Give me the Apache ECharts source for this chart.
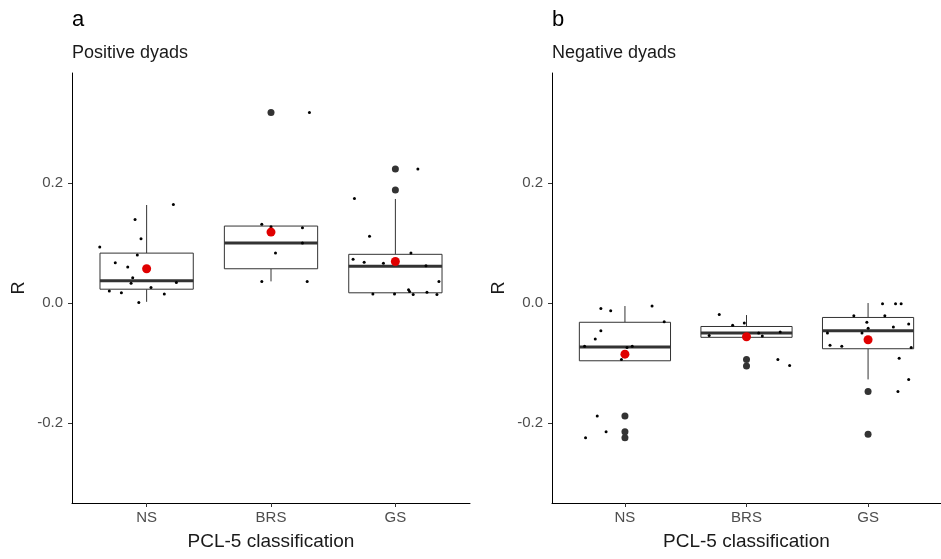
<!DOCTYPE html>
<html>
<head>
<meta charset="utf-8">
<script src="https://cdn.jsdelivr.net/npm/echarts@6/dist/echarts.min.js"></script>
<style>
html, body { margin: 0; padding: 0; background: #fff; }
#chart { width: 941px; height: 559px; }
</style>
</head>
<body>
<div id="chart"></div>
<script>
// categories and tick labels
var categories = ['NS', 'BRS', 'GS'];
var yTicks = [-0.2, 0, 0.2];

// box stats per group: [lower whisker, Q1, median, Q3, upper whisker]
var posBox = [
	[0.002, 0.023, 0.037, 0.083, 0.163],
	[0.036, 0.057, 0.100, 0.128, 0.128],
	[0.015, 0.017, 0.061, 0.081, 0.173]
];
var negBox = [
	[-0.095, -0.096, -0.073, -0.032, -0.005],
	[-0.057, -0.057, -0.050, -0.039, -0.020],
	[-0.127, -0.076, -0.046, -0.024, 0.000]
];

// group means (red dots)
var posMean = [0.057, 0.118, 0.069];
var negMean = [-0.085, -0.056, -0.061];

// outliers: [group position, value]
var posOutliers = [[2, 0.317], [3, 0.223], [3, 0.188]];
var negOutliers = [[1, -0.188], [1, -0.214], [1, -0.224], [2, -0.094], [2, -0.1045], [3, -0.147], [3, -0.218]];

// jittered raw points: [jittered position, value]
var posJitter = [
	[1.215, 0.164], [0.907, 0.139], [0.955, 0.107], [0.623, 0.093], [0.925, 0.080],
	[0.748, 0.067], [0.848, 0.060], [0.888, 0.042], [0.875, 0.033], [1.239, 0.034],
	[1.035, 0.026], [0.700, 0.020], [0.797, 0.017], [1.142, 0.015], [0.937, 0.001],
	[2.309, 0.317], [1.926, 0.131], [2.000, 0.127], [2.253, 0.125], [2.253, 0.100],
	[2.036, 0.083], [1.926, 0.036], [2.291, 0.036],
	[3.181, 0.223], [2.671, 0.174], [2.792, 0.111], [3.125, 0.083], [2.660, 0.073],
	[2.749, 0.068], [2.904, 0.066], [3.246, 0.062], [3.350, 0.036], [3.106, 0.022],
	[3.114, 0.019], [2.819, 0.015], [2.993, 0.015], [3.143, 0.014], [3.254, 0.018],
	[3.334, 0.014]
];
var negJitter = [
	[0.802, -0.009], [0.883, -0.013], [1.223, -0.005], [1.323, -0.031], [0.802, -0.046],
	[0.756, -0.060], [0.668, -0.072], [1.060, -0.072], [1.017, -0.074], [0.971, -0.094],
	[0.772, -0.188], [0.845, -0.214], [0.676, -0.224],
	[1.776, -0.019], [1.982, -0.033], [1.886, -0.037], [2.277, -0.048], [2.100, -0.050],
	[1.693, -0.054], [2.130, -0.055], [2.258, -0.094], [2.355, -0.104],
	[3.119, -0.001], [3.226, -0.001], [3.272, -0.001], [2.883, -0.021], [3.138, -0.021],
	[2.990, -0.032], [3.334, -0.035], [3.208, -0.040], [3.001, -0.042], [2.666, -0.050],
	[2.950, -0.050], [2.687, -0.070], [2.784, -0.072], [3.355, -0.074], [3.256, -0.092],
	[3.334, -0.127], [3.246, -0.147]
];

var font = 'Liberation Sans, Arial, sans-serif';
var boxHalf = 0.375;

boxItems = function(stats){
	var out = [];
	for(var i = 0; i < stats.length; i++)
	{
		out.push([i + 1].concat(stats[i]));
	}
	return out;
}

meanItems = function(vals){
	var out = [];
	for(var i = 0; i < vals.length; i++)
	{
		out.push([i + 1, vals[i]]);
	}
	return out;
}

renderBox = function(params, api){
	var x = api.value(0);
	var lo = api.value(1), q1 = api.value(2), med = api.value(3), q3 = api.value(4), hi = api.value(5);
	var tl = api.coord([x - boxHalf, q3]);
	var br = api.coord([x + boxHalf, q1]);
	var mL = api.coord([x - boxHalf, med]);
	var mR = api.coord([x + boxHalf, med]);
	var wTop = api.coord([x, hi]);
	var wQ3 = api.coord([x, q3]);
	var wQ1 = api.coord([x, q1]);
	var wLo = api.coord([x, lo]);
	var stroke = {stroke: '#333', lineWidth: 1};
	return {
		type: 'group',
		children: [
			{type: 'line', shape: {x1: wTop[0], y1: wTop[1], x2: wQ3[0], y2: wQ3[1]}, style: stroke},
			{type: 'line', shape: {x1: wQ1[0], y1: wQ1[1], x2: wLo[0], y2: wLo[1]}, style: stroke},
			{type: 'rect', shape: {x: tl[0], y: tl[1], width: br[0] - tl[0], height: br[1] - tl[1]},
				style: {fill: '#fff', stroke: '#333', lineWidth: 1}},
			{type: 'line', shape: {x1: mL[0], y1: mL[1], x2: mR[0], y2: mR[1]},
				style: {stroke: '#333', lineWidth: 3}}
		]
	};
}

makeX = function(idx){
	return {
		type: 'value', gridIndex: idx, min: 0.4, max: 3.6,
		splitLine: {show: false},
		axisLine: {show: true, onZero: false, lineStyle: {color: '#000', width: 1}},
		axisTick: {show: true, length: 4, customValues: [1, 2, 3], lineStyle: {color: '#333'}},
		axisLabel: {customValues: [1, 2, 3], margin: 7, color: '#4d4d4d', fontSize: 15, fontFamily: font,
			formatter: function(v){ return categories[Math.round(v) - 1]; }},
		name: 'PCL-5 classification', nameLocation: 'middle', nameGap: 29,
		nameTextStyle: {fontSize: 19, color: '#1a1a1a', fontFamily: font}
	};
}

makeY = function(idx){
	return {
		type: 'value', gridIndex: idx, min: -0.3325, max: 0.3825,
		splitLine: {show: false},
		axisLine: {show: true, onZero: false, lineStyle: {color: '#000', width: 1}},
		axisTick: {show: true, length: 4, customValues: yTicks, lineStyle: {color: '#333'}},
		axisLabel: {customValues: yTicks, margin: 9, color: '#4d4d4d', fontSize: 15, fontFamily: font,
			formatter: function(v){ return v.toFixed(1); }},
		name: 'R', nameLocation: 'middle', nameGap: 44,
		nameTextStyle: {fontSize: 18, color: '#1a1a1a', fontFamily: font}
	};
}

makeSeries = function(idx, box, jitter, outliers, mean){
	return [
		{type: 'custom', xAxisIndex: idx, yAxisIndex: idx, renderItem: renderBox,
			encode: {x: 0, y: [1, 2, 3, 4, 5]}, data: boxItems(box), z: 1, silent: true},
		{type: 'scatter', xAxisIndex: idx, yAxisIndex: idx, data: outliers, symbolSize: 7,
			itemStyle: {color: '#333', opacity: 1}, z: 2, silent: true},
		{type: 'scatter', xAxisIndex: idx, yAxisIndex: idx, data: jitter, symbolSize: 3,
			itemStyle: {color: '#000', opacity: 1}, z: 3, silent: true},
		{type: 'scatter', xAxisIndex: idx, yAxisIndex: idx, data: meanItems(mean), symbolSize: 9,
			itemStyle: {color: '#e00000', opacity: 1}, z: 4, silent: true}
	];
}

var dom = document.getElementById('chart');
var myChart = echarts.init(dom, null, {renderer: 'canvas'});

option = {
	animation: false,
	backgroundColor: '#fff',
	title: [
		{text: 'a', left: 72, top: 9, padding: 0, textStyle: {fontSize: 22, fontWeight: 'normal', color: '#000', fontFamily: font}},
		{text: 'Positive dyads', left: 72, top: 44, padding: 0, textStyle: {fontSize: 18, fontWeight: 'normal', color: '#1a1a1a', fontFamily: font}},
		{text: 'b', left: 552, top: 9, padding: 0, textStyle: {fontSize: 22, fontWeight: 'normal', color: '#000', fontFamily: font}},
		{text: 'Negative dyads', left: 552, top: 44, padding: 0, textStyle: {fontSize: 18, fontWeight: 'normal', color: '#1a1a1a', fontFamily: font}}
	],
	grid: [
		{left: 72, top: 73, width: 398, height: 430},
		{left: 552, top: 73, width: 398, height: 430}
	],
	xAxis: [makeX(0), makeX(1)],
	yAxis: [makeY(0), makeY(1)],
	series: makeSeries(0, posBox, posJitter, posOutliers, posMean)
		.concat(makeSeries(1, negBox, negJitter, negOutliers, negMean))
};

myChart.setOption(option, true);
</script>
</body>
</html>
